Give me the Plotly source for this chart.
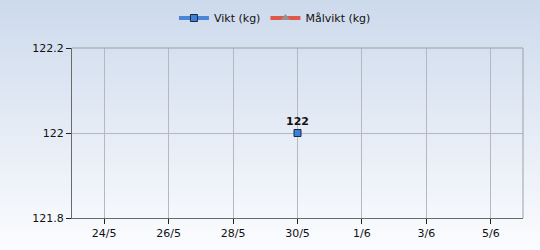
import base64, struct, zlib
import plotly.graph_objects as go

# ---- data ----
vikt_dates = ["2023-05-30"]
vikt_values = [122]
malvikt_dates = ["2023-05-30"]
malvikt_values = [None]
series_names = ["Vikt (kg)", "Målvikt (kg)"]
x_range = ["2023-05-23", "2023-06-06"]
y_range = [121.8, 122.2]

# ---- background gradient as inline PNG ----
def gradient_png(top, bottom, h=250):
    rows = b""
    for i in range(h):
        t = i / (h - 1)
        c = [round(top[k] + (bottom[k] - top[k]) * t) for k in range(3)]
        rows += b"\x00" + bytes(c)
    def chunk(tag, data):
        return struct.pack(">I", len(data)) + tag + data + struct.pack(">I", zlib.crc32(tag + data) & 0xffffffff)
    png = b"\x89PNG\r\n\x1a\n"
    png += chunk(b"IHDR", struct.pack(">IIBBBBB", 1, h, 8, 2, 0, 0, 0))
    png += chunk(b"IDAT", zlib.compress(rows))
    png += chunk(b"IEND", b"")
    return "data:image/png;base64," + base64.b64encode(png).decode()

W, H = 540, 250
L, R, T, B = 72, 17, 48, 32
pw, ph = W - L - R, H - T - B

fig = go.Figure()
fig.add_trace(go.Scatter(
    x=vikt_dates, y=vikt_values, name=series_names[0],
    mode="lines+markers+text",
    text=[f"<b>{v:g}</b>" for v in vikt_values],
    textposition="top center",
    textfont=dict(size=11, color="#111"),
    line=dict(color="#4a86d8", width=4),
    marker=dict(symbol="square", size=7, color="#3f7fd6",
                line=dict(color="#1a2a44", width=1)),
    cliponaxis=False,
))
fig.add_trace(go.Scatter(
    x=malvikt_dates, y=malvikt_values, name=series_names[1],
    mode="lines+markers",
    line=dict(color="#e0584a", width=4),
    marker=dict(symbol="triangle-up", size=8, color="#9a8f8f"),
))

fig.update_layout(
    width=W, height=H,
    margin=dict(l=L, r=R, t=T, b=B, autoexpand=False),
    paper_bgcolor="rgba(0,0,0,0)",
    plot_bgcolor="rgba(0,0,0,0)",
    font=dict(family="DejaVu Sans", size=11, color="#111"),
    showlegend=True,
    legend=dict(orientation="h", x=0.45, xanchor="center",
                y=1 + 30 / ph, yanchor="middle",
                font=dict(size=11, color="#111"),
                bgcolor="rgba(0,0,0,0)", itemwidth=30),
    images=[dict(source=gradient_png((205, 218, 236), (251, 252, 254)),
                 xref="paper", yref="paper",
                 x=-L / pw, y=1 + T / ph, sizex=W / pw, sizey=H / ph,
                 xanchor="left", yanchor="top", sizing="stretch",
                 layer="below")],
)
fig.update_xaxes(
    type="date", range=x_range, tick0="2023-05-24", dtick=2 * 86400000,
    tickformat="%-d/%-m", ticks="outside", ticklen=5, tickcolor="#222",
    showgrid=True, gridcolor="#b4b8c4", gridwidth=1,
    showline=True, linecolor="#6a6a6a", linewidth=1, mirror=False,
    zeroline=False, tickfont=dict(size=11),
)
fig.update_yaxes(
    range=y_range, dtick=0.2, tick0=121.8, ticks="outside", ticklen=5,
    tickcolor="#222", showgrid=True, gridcolor="#b4b8c4", gridwidth=1,
    showline=True, linecolor="#6a6a6a", linewidth=1,
    zeroline=False, tickfont=dict(size=11),
)
# frame top/right
fig.add_shape(type="line", xref="paper", yref="paper", x0=0, x1=1, y0=1, y1=1,
              line=dict(color="#9aa0ab", width=1))
fig.add_shape(type="line", xref="paper", yref="paper", x0=1, x1=1, y0=0, y1=1,
              line=dict(color="#9aa0ab", width=1))

fig.write_html("out.html")
